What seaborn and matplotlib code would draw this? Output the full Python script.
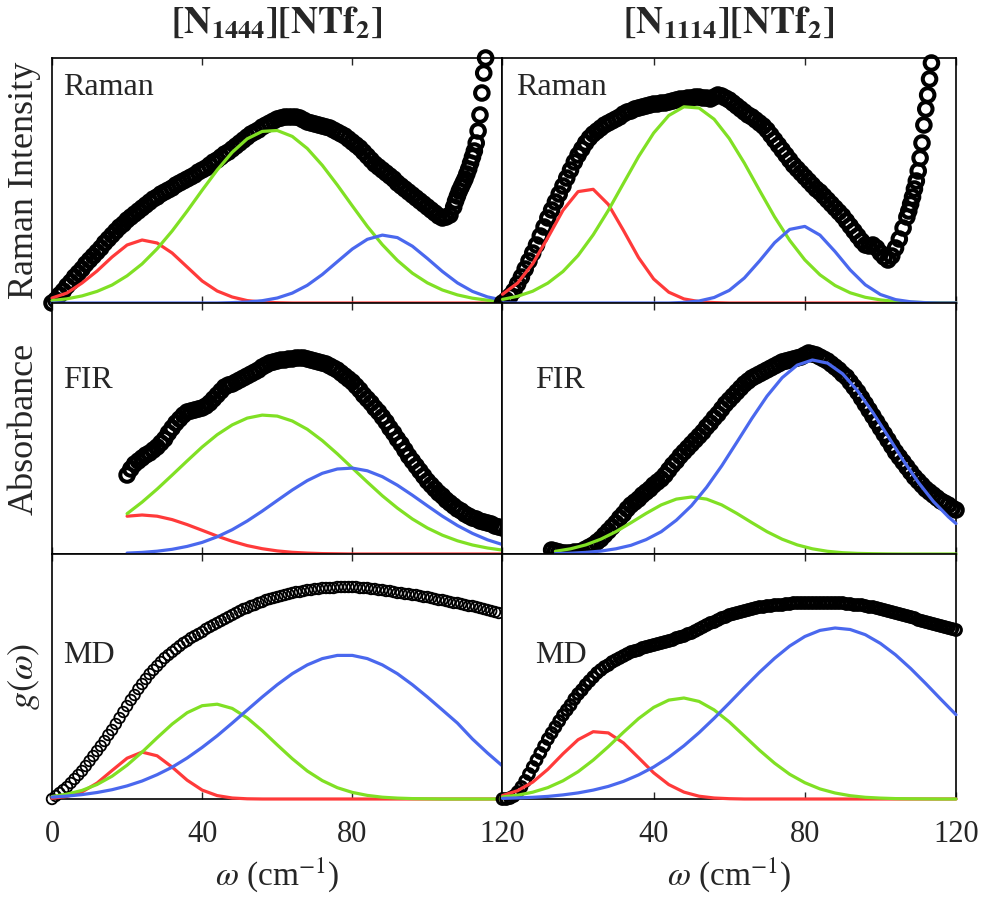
import numpy as np
import matplotlib
matplotlib.use("Agg")
import matplotlib.pyplot as plt
import seaborn as sns

sns.set_style("ticks")
plt.rcParams["font.family"] = ["Liberation Serif", "DejaVu Serif"]
plt.rcParams["mathtext.fontset"] = "stix"

# ---------------------------------------------------------------------------
# data (arbitrary intensity units, baseline = 0)
# ---------------------------------------------------------------------------
samples = ["[N$_{1444}$][NTf$_{2}$]", "[N$_{1114}$][NTf$_{2}$]"]
row_labels = ["Raman", "FIR", "MD"]
y_labels = ["Raman Intensity", "Absorbance", r"$g(\omega)$"]
row_height = [245, 251, 245]
x_ticks = [0, 40, 80, 120]

# measured spectra (open circles)
w_raman_1444 = np.concatenate([np.arange(0, 108), np.arange(107.5, 116, 0.5)])
raman_1444 = [
    0, 3, 8, 12, 17, 21, 26, 30, 34, 39,
    43, 47, 51, 55, 60, 64, 68, 72, 76, 79,
    83, 86, 89, 92, 95, 98, 101, 104, 106, 109,
    111, 113, 115, 118, 120, 122, 124, 126, 128, 131,
    133, 135, 138, 141, 143, 146, 149, 151, 154, 157,
    160, 163, 166, 169, 171, 173, 176, 178, 180, 182,
    184, 185, 186, 186, 186, 186, 185, 183, 181, 180,
    179, 178, 177, 176, 175, 173, 171, 169, 167, 164,
    161, 158, 155, 151, 147, 143, 139, 136, 133, 130,
    127, 124, 120, 117, 114, 111, 108, 105, 102, 99,
    96, 93, 90, 87, 85, 86, 88, 96,
    102, 107, 112, 116, 120, 124, 129, 134, 140, 146,
    152, 160, 172, 188, 210, 230, 245,
]
w_raman_1114 = np.concatenate([np.arange(0, 108), np.arange(107.5, 114, 0.5)])
raman_1114 = [
    0, 3, 7, 12, 19, 26, 34, 42, 50, 58,
    67, 76, 85, 93, 101, 109, 117, 125, 133, 141,
    148, 154, 160, 165, 169, 172, 175, 178, 180, 182,
    184, 186, 189, 191, 192, 194, 195, 196, 197, 198,
    199, 199, 200, 200, 201, 202, 203, 204, 204, 205,
    205, 206, 206, 205, 205, 204, 206, 208, 207, 205,
    203, 200, 197, 194, 191, 188, 186, 183, 180, 177,
    173, 168, 163, 158, 153, 148, 143, 138, 134, 130,
    126, 122, 118, 114, 111, 107, 103, 99, 95, 91,
    87, 82, 77, 72, 67, 62, 58, 57, 58, 55,
    50, 46, 43, 47, 55, 64, 75, 86,
    92, 99, 106, 114, 122, 132, 145, 160, 178, 194,
    208, 224, 240,
]
w_fir_1444 = np.arange(20, 121)
fir_1444 = [
    79, 85, 90, 93, 96, 99, 101, 104, 107, 111,
    115, 121, 126, 131, 135, 139, 142, 143, 144, 145,
    146, 148, 151, 155, 159, 163, 167, 169, 170, 172,
    174, 176, 178, 180, 182, 184, 187, 189, 191, 192,
    193, 194, 194, 195, 195, 196, 196, 196, 195, 194,
    193, 192, 191, 190, 188, 186, 184, 181, 178, 175,
    172, 168, 164, 159, 155, 151, 146, 142, 137, 132,
    126, 121, 115, 110, 104, 98, 93, 88, 83, 78,
    73, 69, 65, 61, 58, 54, 51, 48, 45, 43,
    40, 38, 36, 35, 33, 32, 31, 30, 28, 27,
    26,
]
w_fir_1114 = np.arange(13, 121)
fir_1114 = [
    4, 3, 2, 1, 1, 1, 2,
    2, 3, 5, 7, 9, 12, 15, 19, 23, 27,
    31, 36, 40, 45, 49, 52, 55, 59, 62, 65,
    69, 72, 75, 79, 84, 89, 93, 98, 102, 106,
    110, 114, 118, 122, 127, 131, 136, 140, 145, 150,
    154, 158, 162, 166, 170, 173, 176, 178, 180, 182,
    184, 186, 188, 190, 192, 193, 194, 195, 196, 197,
    199, 201, 200, 199, 197, 195, 193, 190, 187, 184,
    180, 177, 172, 167, 162, 156, 150, 144, 138, 132,
    126, 120, 114, 108, 102, 97, 92, 87, 82, 77,
    73, 69, 65, 62, 59, 56, 53, 51, 49, 46,
    44,
]
w_md_1444 = np.arange(0, 120)
md_1444 = [
    0, 3, 6, 9, 12, 16, 20, 24, 28, 33,
    38, 43, 48, 53, 58, 64, 69, 75, 81, 87,
    93, 99, 104, 110, 115, 120, 125, 129, 133, 137,
    141, 144, 147, 150, 153, 156, 158, 161, 163, 165,
    167, 170, 172, 174, 176, 178, 180, 182, 184, 186,
    188, 190, 191, 193, 194, 196, 197, 199, 200, 201,
    202, 203, 204, 205, 206, 207, 207, 208, 209, 209,
    210, 210, 211, 211, 211, 211, 212, 212, 212, 212,
    212, 212, 211, 211, 211, 210, 210, 209, 209, 208,
    208, 207, 206, 206, 205, 205, 204, 204, 203, 202,
    202, 201, 200, 199, 199, 198, 197, 196, 196, 195,
    194, 193, 193, 192, 191, 190, 189, 188, 187, 186,
]
w_md_1114 = np.arange(0, 121)
md_1114 = [
    0, 0, 1, 3, 7, 12, 18, 25, 32, 39,
    46, 53, 60, 66, 72, 78, 84, 89, 94, 100,
    105, 109, 114, 118, 122, 126, 129, 132, 134, 137,
    139, 141, 143, 145, 147, 148, 149, 151, 152, 153,
    154, 155, 156, 157, 158, 159, 161, 162, 163, 165,
    166, 168, 170, 172, 174, 176, 177, 179, 181, 182,
    184, 185, 186, 187, 188, 189, 190, 191, 192, 192,
    193, 193, 194, 194, 194, 195, 195, 196, 196, 196,
    196, 196, 196, 196, 196, 196, 196, 196, 196, 196,
    196, 195, 195, 194, 194, 194, 193, 192, 192, 191,
    190, 189, 188, 187, 186, 185, 184, 183, 182, 181,
    179, 178, 177, 176, 175, 174, 173, 172, 171, 170,
    169,
]

# fitted components (red, green, blue)
w_fit = np.arange(0, 121, 4)
w_fit_fir_1444 = np.arange(20, 121, 4)
w_fit_fir_1114 = np.concatenate([np.arange(14, 119, 4), [120]])

raman_1444_red = [5, 10, 20, 32, 46, 58, 63, 60, 50, 36, 22, 12, 6, 2.4, 0.9, 0.3,
                  0, 0, 0, 0, 0, 0, 0, 0, 0, 0, 0, 0, 0, 0, 0]
raman_1444_green = [2.4, 4.2, 7.1, 11.6, 18.0, 27.2, 39.1, 54.2, 72.0, 91.9, 112.8,
                    133.0, 150.7, 164.2, 171.6, 172.5, 166.6, 154.5, 137.7, 118.0,
                    97.1, 76.6, 58.3, 42.6, 29.8, 20.1, 13.0, 8.1, 4.8, 2.8, 1.6]
raman_1444_blue = [0, 0, 0, 0, 0, 0, 0, 0, 0, 0, 0, 0, 0.4, 1.0, 2.3, 5.0, 9.9, 17.7,
                   28.5, 41.3, 54.0, 63.7, 67.9, 65.4, 56.8, 44.5, 31.5, 20.1, 11.6,
                   6.1, 2.9]

raman_1114_red = [8.7, 20.0, 39.3, 65.4, 92.7, 111.4, 113.7, 98.6, 72.6, 45.4, 24.0,
                  10.8, 4.1, 1.4, 0.4, 0, 0, 0, 0, 0, 0, 0, 0, 0, 0, 0, 0, 0, 0, 0, 0]
raman_1114_green = [3.6, 6.7, 11.8, 19.9, 31.5, 47.5, 68.2, 92.6, 119.6, 146.4, 170.0,
                    187.5, 196.2, 195.0, 183.8, 164.5, 139.9, 112.7, 86.1, 62.6, 43.1,
                    28.2, 17.5, 10.2, 5.7, 3.1, 1.6, 0.8, 0.4, 0.2, 0.1]
raman_1114_blue = [0, 0, 0, 0, 0, 0, 0, 0, 0, 0, 0, 0, 0.6, 2.0, 5.5, 12.6, 25.0, 42.0,
                   60.3, 73.6, 76.6, 67.9, 51.4, 33.1, 18.2, 8.5, 3.4, 1.2, 0.3, 0, 0]

fir_1444_red = [37.8, 39.0, 37.8, 34.4, 29.4, 23.7, 17.9, 12.7, 8.4, 5.3, 3.1, 1.7,
                0.9, 0.4, 0.2, 0, 0, 0, 0, 0, 0, 0, 0, 0, 0, 0]
fir_1444_green = [40.3, 51.9, 64.9, 78.9, 93.1, 107.0, 119.3, 129.1, 135.9, 138.9,
                  137.9, 133.0, 124.7, 113.4, 100.2, 86.0, 71.9, 58.2, 45.9, 35.0,
                  26.0, 18.8, 13.2, 9.0, 6.0, 3.9]
fir_1444_blue = [0.9, 1.6, 2.8, 4.7, 7.6, 11.6, 17.2, 24.3, 33.0, 42.9, 53.5, 64.0,
                 73.4, 80.7, 85.0, 85.9, 83.2, 77.3, 68.8, 58.8, 48.2, 37.8, 28.5,
                 20.6, 14.2, 9.4]

fir_1114_green = [2.7, 5.2, 9.1, 14.8, 22.3, 31.3, 40.6, 49.1, 54.9, 57.0, 54.9, 49.1,
                  40.6, 31.3, 22.3, 14.8, 9.1, 5.2, 2.7, 1.3, 0.6, 0.3, 0.1, 0, 0, 0,
                  0, 0]
fir_1114_blue = [0.4, 0.8, 1.6, 2.9, 5.2, 8.7, 14.4, 22.3, 33.8, 48.3, 66.7, 88.1,
                 111.7, 135.6, 157.9, 176.3, 188.9, 194.0, 190.9, 180.2, 163.0, 141.4,
                 117.8, 93.9, 71.8, 52.6, 37.1, 30.5]

md_1444_red = [0.7, 2.6, 7.1, 15.9, 28.5, 40.8, 46.9, 43.2, 31.9, 18.8, 8.9, 3.4, 1.0,
               0.2, 0, 0, 0, 0, 0, 0, 0, 0, 0, 0, 0, 0, 0, 0, 0, 0, 0]
md_1444_green = [2.5, 4.9, 8.6, 14.5, 22.8, 33.8, 46.9, 61.2, 74.9, 86.3, 93.3, 94.8,
                 90.6, 81.1, 68.3, 54.1, 40.3, 28.0, 18.4, 11.3, 6.6, 3.6, 1.8, 0.9,
                 0.4, 0.2, 0, 0, 0, 0, 0]
md_1444_blue = [1.9, 2.9, 4.4, 6.5, 9.3, 13.1, 18.0, 24.3, 31.8, 41.0, 51.6, 63.2,
                75.9, 89.0, 102.0, 114.3, 125.3, 134.1, 140.4, 143.6, 143.6, 140.4,
                134.1, 125.3, 114.3, 102.0, 89.0, 75.9, 60.0, 46.0, 33.0]

md_1114_red = [3.5, 8.3, 16.9, 29.7, 45.2, 59.3, 67.3, 66.1, 56.1, 41.3, 26.2, 14.4,
               6.9, 2.8, 1.0, 0.3, 0, 0, 0, 0, 0, 0, 0, 0, 0, 0, 0, 0, 0, 0, 0]
md_1114_green = [2.1, 3.8, 6.8, 11.4, 18.2, 27.3, 38.9, 52.3, 66.7, 80.4, 91.6, 98.9,
                 101.0, 97.6, 89.1, 77.1, 63.0, 48.8, 35.8, 24.7, 16.3, 10.1, 6.0,
                 3.3, 1.7, 0.9, 0.4, 0.2, 0.1, 0, 0]
md_1114_blue = [0.6, 1.1, 1.7, 2.6, 4.1, 6.1, 8.9, 12.6, 17.6, 24.1, 32.0, 41.7, 53.2,
                66.3, 80.7, 95.9, 111.5, 126.7, 140.7, 153.0, 162.5, 168.6, 171.0,
                169.5, 164.3, 155.6, 144.2, 130.5, 115.4, 99.7, 84.3]

RED, GREEN, BLUE = "#ff3a3a", "#80e024", "#4a68ee"

# ---------------------------------------------------------------------------
# figure: 3 rows x 2 columns, no gaps (MATLAB-like box)
# ---------------------------------------------------------------------------
fig, axes = plt.subplots(
    3, 2, figsize=(9.83, 8.97), dpi=100,
    gridspec_kw=dict(left=52 / 983, right=956 / 983, top=1 - 58 / 897,
                     bottom=1 - 799 / 897, wspace=0, hspace=0,
                     width_ratios=[450, 453], height_ratios=row_height),
)

panels = [
    # (row, col, w data, y data, w fit, [(values, colour), ...], marker size, marker lw)
    (0, 0, w_raman_1444, raman_1444, w_fit,
     [(raman_1444_red, RED), (raman_1444_green, GREEN), (raman_1444_blue, BLUE)], 95, 2.9),
    (0, 1, w_raman_1114, raman_1114, w_fit,
     [(raman_1114_red, RED), (raman_1114_green, GREEN), (raman_1114_blue, BLUE)], 95, 2.9),
    (1, 0, w_fir_1444, fir_1444, w_fit_fir_1444,
     [(fir_1444_red, RED), (fir_1444_green, GREEN), (fir_1444_blue, BLUE)], 95, 2.9),
    (1, 1, w_fir_1114, fir_1114, w_fit_fir_1114,
     [(fir_1114_green, GREEN), (fir_1114_blue, BLUE)], 95, 2.9),
    (2, 0, w_md_1444, md_1444, w_fit,
     [(md_1444_red, RED), (md_1444_green, GREEN), (md_1444_blue, BLUE)], 58, 1.3),
    (2, 1, w_md_1114, md_1114, w_fit,
     [(md_1114_red, RED), (md_1114_green, GREEN), (md_1114_blue, BLUE)], 58, 2.3),
]

for row, col, w, y, wf, fits, ms, mlw in panels:
    ax = axes[row, col]
    sns.scatterplot(x=w, y=y, ax=ax, marker="o", s=ms, facecolor="none",
                    edgecolor="black", linewidth=mlw, clip_on=False, zorder=2,
                    legend=False)
    for vals, c in fits:
        sns.lineplot(x=wf, y=vals, ax=ax, color=c, lw=2.3, estimator=None,
                     sort=False, clip_on=False, zorder=3)

    ax.set_xlim(0, 120)
    ax.set_ylim(0, row_height[row])
    ax.set_yticks([])
    ax.set_xticks(x_ticks)
    ax.tick_params(axis="x", direction="in", top=True, bottom=True, length=5,
                   width=1, labelsize=22, pad=15, labelbottom=(row == 2))
    if col == 1:
        ax.set_xticklabels(["", "40", "80", "120"])
    for sp in ax.spines.values():
        sp.set_color("black")
        sp.set_linewidth(1.2)
    ax.set_xlabel("")
    ax.set_ylabel("")

    # panel tag
    tx = 0.024 if (col == 0 or row == 0) else 0.071
    if col == 1 and row == 0:
        tx = 0.031
    ty = [0.849, 0.661, 0.555][row]
    ax.text(tx, ty, row_labels[row], transform=ax.transAxes, fontsize=23,
            va="baseline", ha="left")

    if col == 0:
        ax.set_ylabel(y_labels[row], fontsize=26, va="baseline")
        ax.yaxis.set_label_coords(-0.043, 0.5)
    if row == 2:
        ax.set_xlabel(r"$\omega$ (cm$^{-1}$)", fontsize=24, labelpad=5)

# column titles
for col in range(2):
    pos = axes[0, col].get_position()
    fig.text((pos.x0 + pos.x1) / 2, 1 - 33 / 897,
             r"$\mathbf{%s}$" % samples[col].replace("$", ""),
             ha="center", va="baseline", fontsize=27)

fig.savefig("out.png", dpi=100)
